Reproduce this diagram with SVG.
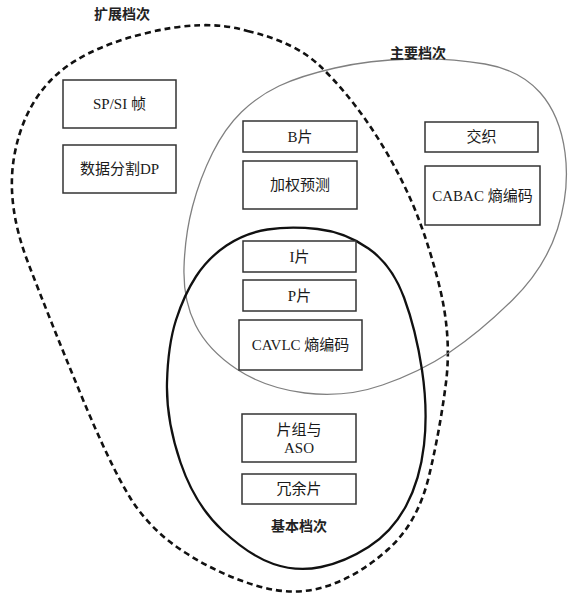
<svg xmlns="http://www.w3.org/2000/svg" width="580" height="609" viewBox="0 0 580 609">
<style>
.bg{fill:#ffffff}
.ext{fill:none;stroke:#111;stroke-width:2.6;stroke-dasharray:6 4}
.main{fill:none;stroke:#808080;stroke-width:1.3}
.base{fill:none;stroke:#111;stroke-width:2.3}
.box{fill:#fff;stroke:#333;stroke-width:1.5}
text{font-family:"Liberation Serif","Noto Sans CJK SC",serif;font-size:15px;fill:#1a1a1a;text-anchor:middle;dominant-baseline:central}
.lbl{font-family:"Noto Sans CJK SC","Liberation Sans",sans-serif;font-size:14px;font-weight:bold;fill:#222}
</style>
<rect class="bg" x="0" y="0" width="580" height="609"/>
<g id="profiles">
<path id="extended-profile" class="ext" d="M247.5,31 Q295,42 320,66 Q345,90 367.5,122.5 Q390,155 407.5,192.5 Q425,230 438.5,282.5 Q452,335 446,382.5 Q440,430 429,476 Q418,522 389,548.5 Q360,575 327.5,586 Q295,597 257.5,586 Q220,575 185,552.5 Q150,530 130,497.5 Q110,465 80,392.5 Q50,320 28,262.5 Q6,205 14,157.5 Q22,110 51,80 Q80,50 142.5,34 Q205,18 247.5,31 Z"/>
<path id="main-profile" class="main" d="M279,86 Q300,76 335,68 Q370,60 410,59 Q450,58 485,64 Q520,70 540,92.5 Q560,115 565,152.5 Q570,190 557.5,229 Q545,268 512.5,300 Q480,332 450,352 Q420,372 382.5,385 Q345,398 305,393 Q265,388 236.5,369 Q208,350 195.5,325 Q183,300 184,267.5 Q185,235 192.5,206.5 Q200,178 212.5,153 Q225,128 241.5,112 Q258,96 279,86 Z"/>
<path id="baseline-profile" class="base" d="M317.5,229 Q345,232 368.5,248.5 Q392,265 404,297.5 Q416,330 422,370 Q428,410 424,445 Q420,480 406,506 Q392,532 368.5,547 Q345,562 321,567 Q297,572 273.5,564 Q250,556 222.5,530.5 Q195,505 180.5,462.5 Q166,420 167,382.5 Q168,345 176,320 Q184,295 196,276.5 Q208,258 226.5,245.5 Q245,233 267.5,229.5 Q290,226 317.5,229 Z"/>
</g>
<text class="lbl" x="122" y="13">扩展档次</text>
<text class="lbl" x="418" y="52">主要档次</text>
<text class="lbl" x="299" y="525">基本档次</text>
<g id="n-spsi"><rect class="box" x="63" y="80" width="113" height="48"/><text x="119.5" y="104">SP/SI 帧</text></g>
<g id="n-dp"><rect class="box" x="63" y="145" width="113" height="48"/><text x="119.5" y="169">数据分割DP</text></g>
<g id="n-b"><rect class="box" x="243" y="121" width="114" height="31"/><text x="300" y="136.5">B片</text></g>
<g id="n-wp"><rect class="box" x="243" y="161" width="114" height="48"/><text x="300" y="185">加权预测</text></g>
<g id="n-interlace"><rect class="box" x="425" y="122" width="113" height="30"/><text x="481.5" y="137">交织</text></g>
<g id="n-cabac"><rect class="box" x="425" y="166" width="115" height="59"/><text x="482.5" y="195.5">CABAC 熵编码</text></g>
<g id="n-i"><rect class="box" x="243" y="241" width="113" height="31"/><text x="299.5" y="256.5">I片</text></g>
<g id="n-p"><rect class="box" x="243" y="280" width="113" height="31"/><text x="299.5" y="295.5">P片</text></g>
<g id="n-cavlc"><rect class="box" x="239" y="320" width="123" height="50"/><text x="300.5" y="345">CAVLC 熵编码</text></g>
<g id="n-aso"><rect class="box" x="242" y="414" width="114" height="48"/><text x="299" y="430">片组与</text><text x="299" y="448">ASO</text></g>
<g id="n-redundant"><rect class="box" x="242" y="474" width="114" height="30"/><text x="299" y="489">冗余片</text></g>
</svg>
